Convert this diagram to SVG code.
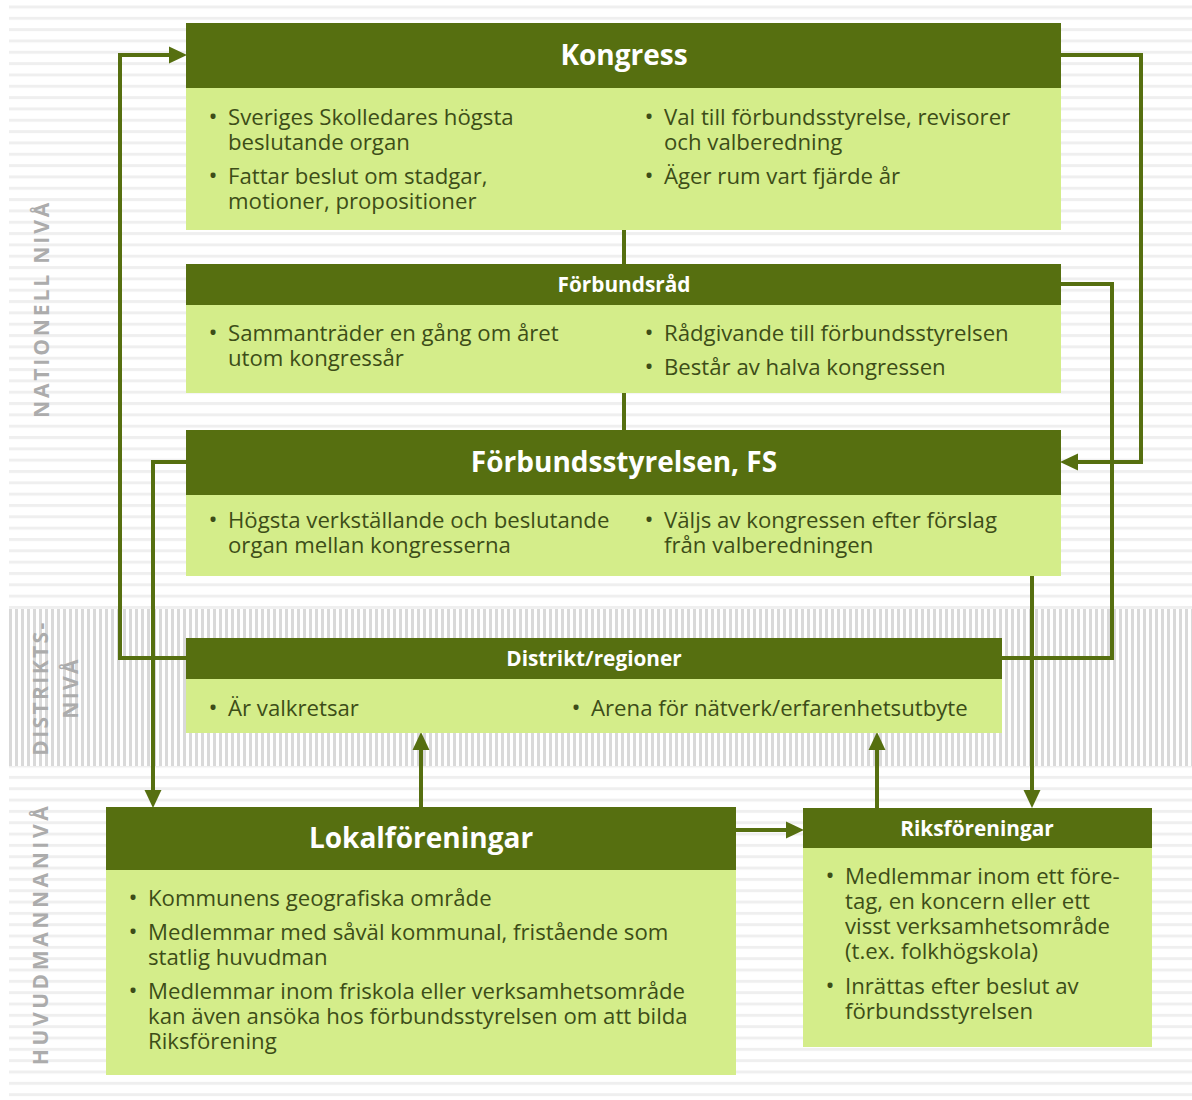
<svg xmlns="http://www.w3.org/2000/svg" width="1192" height="1100" viewBox="0 0 1192 1100">
<defs>
<pattern id="hstripe" x="0" y="5.5" width="20" height="11.33" patternUnits="userSpaceOnUse">
<rect x="0" y="0" width="20" height="3" fill="#efefef"/>
</pattern>
<pattern id="vstripe" x="9" y="0" width="6" height="20" patternUnits="userSpaceOnUse">
<rect x="0" y="0" width="3" height="20" fill="#d9d9d9"/>
</pattern>
<marker id="arr" markerUnits="userSpaceOnUse" markerWidth="18" markerHeight="18" refX="0" refY="8" orient="auto" viewBox="0 0 17 16">
<path d="M0,0 L17,8 L0,16 Z" fill="#566f10"/>
</marker>
<style>
.hd{fill:#566f10}
.bd{fill:#d4ed8a}
.t1{font-family:"Open Sans","Liberation Sans",sans-serif;font-weight:bold;fill:#ffffff;text-anchor:middle}
.big{font-size:28px}
.sm{font-size:20.8px}
.tx{font-family:"Open Sans","Liberation Sans",sans-serif;font-size:22.2px;fill:#3d4d18}
.bu{font-family:"Open Sans","Liberation Sans",sans-serif;font-size:24px;fill:#3d4d18;text-anchor:middle}
.side{font-family:"Open Sans","Liberation Sans",sans-serif;font-weight:bold;font-size:21px;fill:#acacac;text-anchor:middle;dominant-baseline:central}
.cn{fill:none;stroke:#566f10;stroke-width:4}
</style>
</defs>
<g id="background">
<rect x="9" y="5" width="1183" height="1095" fill="url(#hstripe)"/>
<rect x="9" y="609" width="1183" height="157" fill="#ffffff"/>
<rect x="9" y="609" width="1183" height="157" fill="url(#vstripe)"/>
<text class="side" letter-spacing="2.9" transform="translate(41,309) rotate(-90)">NATIONELL NIVÅ</text>
<text class="side" letter-spacing="2.4" transform="translate(40,688) rotate(-90)">DISTRIKTS-</text>
<text class="side" letter-spacing="2.3" transform="translate(70,688) rotate(-90)">NIVÅ</text>
<text class="side" letter-spacing="3.6" transform="translate(40,934) rotate(-90)">HUVUDMANNANIVÅ</text>
</g>
<g id="connectors">
<path class="cn" d="M624,230 V264"/>
<path class="cn" d="M624,393 V430"/>
<path class="cn" d="M186,658 H120 V55 H169" marker-end="url(#arr)"/>
<path class="cn" d="M1061,55 H1141 V462 H1078" marker-end="url(#arr)"/>
<path class="cn" d="M1061,284 H1112 V658 H1002"/>
<path class="cn" d="M186,462 H153 V790" marker-end="url(#arr)"/>
<path class="cn" d="M1032,576 V790" marker-end="url(#arr)"/>
<path class="cn" d="M421,807 V750" marker-end="url(#arr)"/>
<path class="cn" d="M877,808 V750" marker-end="url(#arr)"/>
<path class="cn" d="M736,830 H786" marker-end="url(#arr)"/>
</g>
<g id="kongress">
<rect class="hd" x="186" y="23" width="875" height="65"/>
<rect class="bd" x="186" y="88" width="875" height="142"/>
<text class="t1 big" x="624" y="65">Kongress</text>
<text class="bu"><tspan x="213" y="125">•</tspan><tspan x="213" y="184">•</tspan><tspan x="649" y="125">•</tspan><tspan x="649" y="184">•</tspan></text>
<text class="tx"><tspan x="228" y="125">Sveriges Skolledares högsta</tspan><tspan x="228" y="150">beslutande organ</tspan><tspan x="228" y="184">Fattar beslut om stadgar,</tspan><tspan x="228" y="209">motioner, propositioner</tspan></text>
<text class="tx"><tspan x="664" y="125">Val till förbundsstyrelse, revisorer</tspan><tspan x="664" y="150">och valberedning</tspan><tspan x="664" y="184">Äger rum vart fjärde år</tspan></text>
</g>
<g id="forbundsrad">
<rect class="hd" x="186" y="264" width="875" height="41"/>
<rect class="bd" x="186" y="305" width="875" height="88"/>
<text class="t1 sm" x="624" y="292">Förbundsråd</text>
<text class="bu"><tspan x="213" y="341">•</tspan><tspan x="649" y="341">•</tspan><tspan x="649" y="375">•</tspan></text>
<text class="tx"><tspan x="228" y="341">Sammanträder en gång om året</tspan><tspan x="228" y="366">utom kongressår</tspan></text>
<text class="tx"><tspan x="664" y="341">Rådgivande till förbundsstyrelsen</tspan><tspan x="664" y="375">Består av halva kongressen</tspan></text>
</g>
<g id="forbundsstyrelsen">
<rect class="hd" x="186" y="430" width="875" height="65"/>
<rect class="bd" x="186" y="495" width="875" height="81"/>
<text class="t1 big" x="624" y="472">Förbundsstyrelsen, FS</text>
<text class="bu"><tspan x="213" y="528">•</tspan><tspan x="649" y="528">•</tspan></text>
<text class="tx"><tspan x="228" y="528">Högsta verkställande och beslutande</tspan><tspan x="228" y="553">organ mellan kongresserna</tspan></text>
<text class="tx"><tspan x="664" y="528">Väljs av kongressen efter förslag</tspan><tspan x="664" y="553">från valberedningen</tspan></text>
</g>
<g id="distrikt">
<rect class="hd" x="186" y="638" width="816" height="41"/>
<rect class="bd" x="186" y="679" width="816" height="54"/>
<text class="t1 sm" x="594" y="666">Distrikt/regioner</text>
<text class="bu"><tspan x="213" y="716">•</tspan><tspan x="576" y="716">•</tspan></text>
<text class="tx"><tspan x="228" y="716">Är valkretsar</tspan></text>
<text class="tx"><tspan x="591" y="716">Arena för nätverk/erfarenhetsutbyte</tspan></text>
</g>
<g id="lokalforeningar">
<rect class="hd" x="106" y="807" width="630" height="63"/>
<rect class="bd" x="106" y="870" width="630" height="205"/>
<text class="t1 big" x="421" y="848">Lokalföreningar</text>
<text class="bu"><tspan x="133" y="906">•</tspan><tspan x="133" y="940">•</tspan><tspan x="133" y="999">•</tspan></text>
<text class="tx"><tspan x="148" y="906">Kommunens geografiska område</tspan><tspan x="148" y="940">Medlemmar med såväl kommunal, fristående som</tspan><tspan x="148" y="965">statlig huvudman</tspan><tspan x="148" y="999">Medlemmar inom friskola eller verksamhetsområde</tspan><tspan x="148" y="1024">kan även ansöka hos förbundsstyrelsen om att bilda</tspan><tspan x="148" y="1049">Riksförening</tspan></text>
</g>
<g id="riksforeningar">
<rect class="hd" x="803" y="808" width="349" height="40"/>
<rect class="bd" x="803" y="848" width="349" height="199"/>
<text class="t1 sm" x="977" y="836">Riksföreningar</text>
<text class="bu"><tspan x="830" y="884">•</tspan><tspan x="830" y="994">•</tspan></text>
<text class="tx"><tspan x="845" y="884">Medlemmar inom ett före-</tspan><tspan x="845" y="909">tag, en koncern eller ett</tspan><tspan x="845" y="934">visst verksamhetsområde</tspan><tspan x="845" y="959">(t.ex. folkhögskola)</tspan><tspan x="845" y="994">Inrättas efter beslut av</tspan><tspan x="845" y="1019">förbundsstyrelsen</tspan></text>
</g>
</svg>
